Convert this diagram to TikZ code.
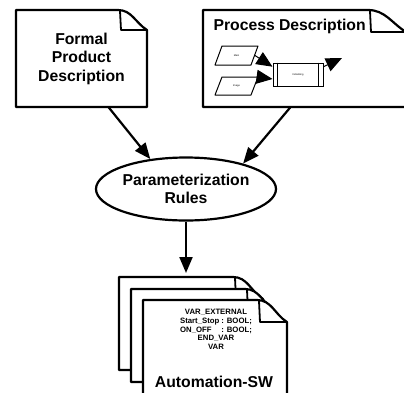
\documentclass[tikz,border=0pt]{standalone}
\usepackage{fontspec}
\setmainfont{Liberation Sans}
\usetikzlibrary{arrows.meta,shapes.geometric,calc}
\tikzset{
  docline/.style={line width=2.2bp, line join=round, fill=white},
  body/.style={draw=none, inner sep=0pt, outer sep=0pt, minimum width=#1},
  bigarrow/.style={line width=2.2bp, -{Triangle[length=16bp,width=13bp]}},
  smallarrow/.style={line width=1bp, -{Triangle[length=16bp,width=14bp]}},
  biglabel/.style={font=\bfseries\fontsize{15.8}{18.5}\selectfont, align=center},
  codelabel/.style={font=\bfseries\fontsize{7.8}{8.8}\selectfont, align=center},
  tinylabel/.style={font=\fontsize{2.5}{3}\selectfont},
  parabox/.style={draw=none, inner sep=0pt, outer sep=0pt, minimum width=43bp,
    font=\fontsize{2.5}{3}\selectfont},
}
\newcommand\docfold[3]{%
  \draw[docline] (#1.north west) -- ([xshift=-#2]#1.north east)
    to[out=0,in=148] ([yshift=-#3]#1.north east) -- (#1.south east)
    -- (#1.south west) -- cycle;
  \draw[line width=1.8bp, line join=round]
    ([xshift=-#2+2bp,yshift=-1bp]#1.north east)
    -- ([xshift=-#2+3bp,yshift=-#3]#1.north east)
    -- ([yshift=-#3]#1.north east);
}
\newcommand\paradraw[1]{%
  \draw[line width=1bp, line join=round] (#1.south west) -- ([xshift=7bp]#1.north west)
    -- (#1.north east) -- ([xshift=-7bp]#1.south east) -- cycle;
}
\begin{document}
\begin{tikzpicture}[x=1bp,y=-1bp]
\useasboundingbox (0,0) rectangle (404,393);

% Formal product description
\node[body=131bp, minimum height=97bp] (fpd) at (81.5,58.5) {};
\docfold{fpd}{29bp}{20bp}
\node[biglabel] (fpdt) at (fpd.center) {Formal\\Product\\Description};

% Process description
\node[body=203bp, minimum height=97bp] (pd) at (304.5,58.5) {};
\docfold{pd}{38bp}{22bp}
\node[biglabel, anchor=west] (pdt) at (210,26) {Process Description};

% inner process diagram
\node[parabox, minimum height=19bp] (par1) at (236.5,55.5) {Main};
\paradraw{par1}
\node[parabox, minimum height=18bp] (par2) at (236.5,86) {Image};
\paradraw{par2}
\node[draw, line width=1bp, minimum width=50bp, minimum height=23bp, inner sep=0pt, tinylabel] (sub) at (298,74.5) {Initializing};
\draw[line width=1bp] ([xshift=5bp]sub.north west) -- ([xshift=5bp]sub.south west);
\draw[line width=1bp] ([xshift=-5bp]sub.north east) -- ([xshift=-5bp]sub.south east);
\coordinate (out) at (342,58);
\draw[smallarrow] ([xshift=-3bp]par1.east) -- (sub.163);
\draw[smallarrow] (par2.north east) -- (sub.190);
\draw[smallarrow] (sub.17) -- (out);

% Parameterization rules
\node[draw, ellipse, line width=2.2bp, minimum width=180bp, minimum height=63bp,
  inner sep=0pt, biglabel] (rules) at (186,189) {Parameterization\\Rules};

\draw[bigarrow] (fpd.-61) -- (rules.140);
\draw[bigarrow] (pd.-106) -- (rules.24);

% Stacked automation documents
\node[body=144bp, minimum height=93bp] (doc1) at (191,323.5) {};
\node[body=144bp, minimum height=93bp] (doc2) at (203,335.5) {};
\node[body=144bp, minimum height=100bp] (doc3) at (215,350) {};
\docfold{doc1}{30bp}{22bp}
\docfold{doc2}{30bp}{22bp}
\docfold{doc3}{30bp}{22bp}

\draw[bigarrow, shorten >=4bp] (rules.south) -- (rules.south |- doc1.north);

\node[codelabel] (code) at (216,329.5) {VAR\_EXTERNAL\\
  \makebox[40bp][l]{Start\_Stop}\,: BOOL;\\
  \makebox[40bp][l]{ON\_OFF}\,: BOOL;\\
  END\_VAR\\
  VAR};
\node[biglabel] (asw) at (214,382) {Automation-SW};
\end{tikzpicture}
\end{document}
